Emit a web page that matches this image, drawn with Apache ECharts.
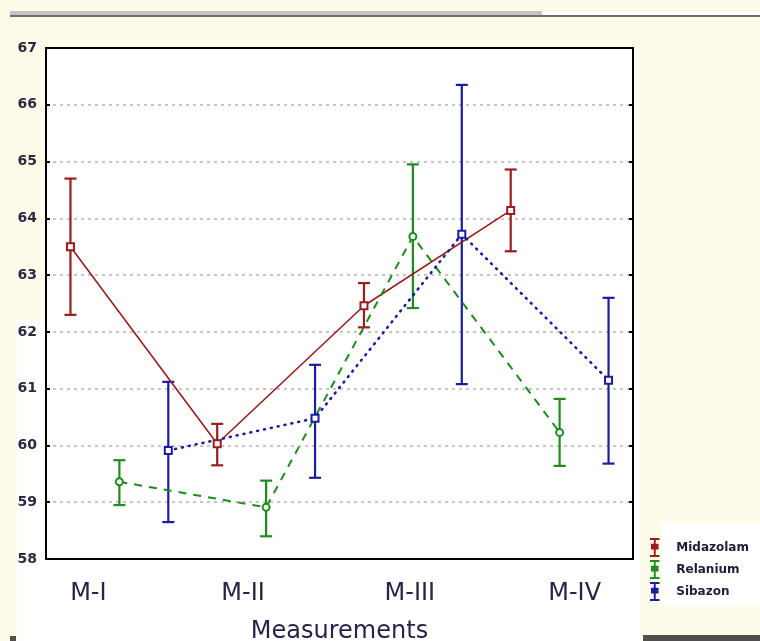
<!DOCTYPE html>
<html>
<head>
<meta charset="utf-8">
<script src="https://cdn.jsdelivr.net/npm/echarts@6/dist/echarts.min.js"></script>
<style>
html,body{margin:0;padding:0;background:#fffbeb;}
#chart{width:760px;height:641px;}
</style>
</head>
<body>
<div id="chart"></div>
<script>
// ---- data ----
const categories = ['M-I', 'M-II', 'M-III', 'M-IV'];
const seriesNames = ['Midazolam', 'Relanium', 'Sibazon'];
const midazolamMean = [63.50, 60.03, 62.46, 64.14];
const midazolamLow  = [62.30, 59.65, 62.08, 63.42];
const midazolamHigh = [64.70, 60.38, 62.86, 64.86];
const relaniumMean  = [59.36, 58.91, 63.68, 60.23];
const relaniumLow   = [58.95, 58.40, 62.42, 59.64];
const relaniumHigh  = [59.74, 59.38, 64.95, 60.82];
const sibazonMean   = [59.91, 60.48, 63.72, 61.15];
const sibazonLow    = [58.65, 59.43, 61.08, 59.68];
const sibazonHigh   = [61.12, 61.42, 66.35, 62.60];
const yTicks = [58, 59, 60, 61, 62, 63, 64, 65, 66, 67];

const colors = ['#9b1c1c', '#1e8c1e', '#1c1ca0'];
const means = [midazolamMean, relaniumMean, sibazonMean];
const lows = [midazolamLow, relaniumLow, sibazonLow];
const highs = [midazolamHigh, relaniumHigh, sibazonHigh];
const symbols = ['rect', 'circle', 'rect'];
const lineTypes = ['solid', [8, 7], [1, 6]];
const lineCaps = ['butt', 'butt', 'round'];
const lineWidths = [1.6, 2, 2.6];

// position inside the category band (3 slots per category)
function slotX(catIdx, sIdx) { return catIdx * 3 + sIdx + 0.5; }

const chart = echarts.init(document.getElementById('chart'), null, {renderer: 'canvas'});

const series = [];
seriesNames.forEach((name, s) => {
  series.push({
    name: name,
    type: 'line',
    xAxisIndex: 2,
    yAxisIndex: 0,
    data: means[s].map((v, i) => [slotX(i, s), v]),
    symbol: symbols[s],
    symbolSize: 7,
    showSymbol: true,
    z: 4,
    lineStyle: {color: colors[s], width: lineWidths[s], type: lineTypes[s], cap: lineCaps[s]},
    itemStyle: {color: '#ffffff', borderColor: colors[s], borderWidth: 2},
    emphasis: {disabled: true},
    animation: false
  });
  series.push({
    name: name,
    type: 'custom',
    xAxisIndex: 2,
    yAxisIndex: 0,
    z: 3,
    data: lows[s].map((v, i) => [slotX(i, s), v, highs[s][i]]),
    renderItem: function (params, api) {
      const x = api.value(0);
      const lo = api.coord([x, api.value(1)]);
      const hi = api.coord([x, api.value(2)]);
      const hw = 6;
      const st = {stroke: colors[s], lineWidth: 2.2};
      return {
        type: 'group',
        children: [
          {type: 'line', shape: {x1: lo[0], y1: lo[1], x2: hi[0], y2: hi[1]}, style: st},
          {type: 'line', shape: {x1: lo[0] - hw, y1: lo[1], x2: lo[0] + hw, y2: lo[1]}, style: st},
          {type: 'line', shape: {x1: hi[0] - hw, y1: hi[1], x2: hi[0] + hw, y2: hi[1]}, style: st}
        ]
      };
    },
    animation: false
  });
});

const labelOffsets = [[0, 62, 0, 0], [0, 46, 0, 0], [0, 6, 0, 0], [0, 0, 0, 30]];
const xRich = {};
labelOffsets.forEach((p, i) => {
  xRich['l' + i] = {padding: p, fontSize: 24, fontFamily: 'DejaVu Sans', color: '#2a2248'};
});

const option = {
  backgroundColor: '#fffbeb',
  animation: false,
  graphic: [
    {type: 'rect', z: -100, silent: true, shape: {x: 17, y: 320, width: 623, height: 321}, style: {fill: '#ffffff'}},
    {type: 'rect', z: -100, silent: true, shape: {x: 542, y: 11, width: 218, height: 5}, style: {fill: '#ffffff'}},
    {type: 'rect', z: -100, silent: true, shape: {x: 10, y: 11, width: 532, height: 5}, style: {fill: '#c4c4c4'}},
    {type: 'rect', z: -100, silent: true, shape: {x: 10, y: 15, width: 750, height: 2}, style: {fill: '#6e6e6e'}},
    {type: 'rect', z: -100, silent: true, shape: {x: 662, y: 523, width: 98, height: 83}, style: {fill: '#ffffff'}},
    {type: 'rect', z: -100, silent: true, shape: {x: 643, y: 635, width: 117, height: 6}, style: {fill: '#505050'}},
    {type: 'rect', z: -100, silent: true, shape: {x: 10, y: 636, width: 6, height: 5}, style: {fill: '#505050'}}
  ],
  grid: {
    left: 46, right: 127, top: 48, bottom: 82,
    outerBoundsMode: 'none', containLabel: false,
    show: true, backgroundColor: '#ffffff', borderColor: '#000', borderWidth: 2
  },
  legend: {
    orient: 'vertical',
    left: 645, top: 533,
    itemWidth: 11, itemHeight: 19, itemGap: 3,
    icon: 'path://M0,0H10V2H6V6H9V12H6V18H10V20H0V18H4V12H1V6H4V2H0Z',
    data: seriesNames.map((n, i) => ({name: n, itemStyle: {color: colors[i], borderWidth: 0}})),
    textStyle: {fontSize: 12, fontWeight: 'bold', fontFamily: 'DejaVu Sans', color: '#1c1c3c', padding: [0, 0, 0, 11]},
    selectedMode: false
  },
  xAxis: [
    {
      type: 'category', data: categories, position: 'bottom', boundaryGap: true,
      axisLine: {lineStyle: {color: '#000', width: 2}},
      axisTick: {inside: true, alignWithLabel: true, length: 4, lineStyle: {color: '#000', width: 2}},
      axisLabel: {
        margin: 23,
        formatter: (v, i) => '{l' + i + '|' + v + '}',
        rich: xRich
      },
      splitLine: {show: false},
      name: 'Measurements', nameLocation: 'middle', nameGap: 61,
      nameTextStyle: {fontSize: 24, fontFamily: 'DejaVu Sans', color: '#2a2248'}
    },
    {
      type: 'category', data: categories, position: 'top', boundaryGap: true,
      axisLine: {lineStyle: {color: '#000', width: 2}},
      axisTick: {inside: true, alignWithLabel: true, length: 4, lineStyle: {color: '#000', width: 2}},
      axisLabel: {show: false}, splitLine: {show: false}
    },
    {
      type: 'value', min: 0, max: categories.length * 3, show: false
    }
  ],
  yAxis: [
    {
      type: 'value', min: 58, max: 67, interval: 1,
      axisLine: {show: true, lineStyle: {color: '#000', width: 2}},
      axisTick: {show: true, inside: true, length: 4, lineStyle: {color: '#000', width: 2}},
      axisLabel: {
        margin: 9, fontSize: 14, fontWeight: 'bold',
        fontFamily: 'DejaVu Sans',
        color: '#2a2a40',
        formatter: v => yTicks.includes(v) ? String(v) : ''
      },
      splitLine: {show: true, lineStyle: {color: '#b4b4b4', width: 1.5, type: [3, 4]}}
    },
    {
      type: 'value', min: 58, max: 67, interval: 1, position: 'right',
      axisLine: {show: true, lineStyle: {color: '#000', width: 2}},
      axisTick: {show: true, inside: true, length: 4, lineStyle: {color: '#000', width: 2}},
      axisLabel: {show: false}, splitLine: {show: false}
    }
  ],
  series: series
};
chart.setOption(option);
</script>
</body>
</html>
